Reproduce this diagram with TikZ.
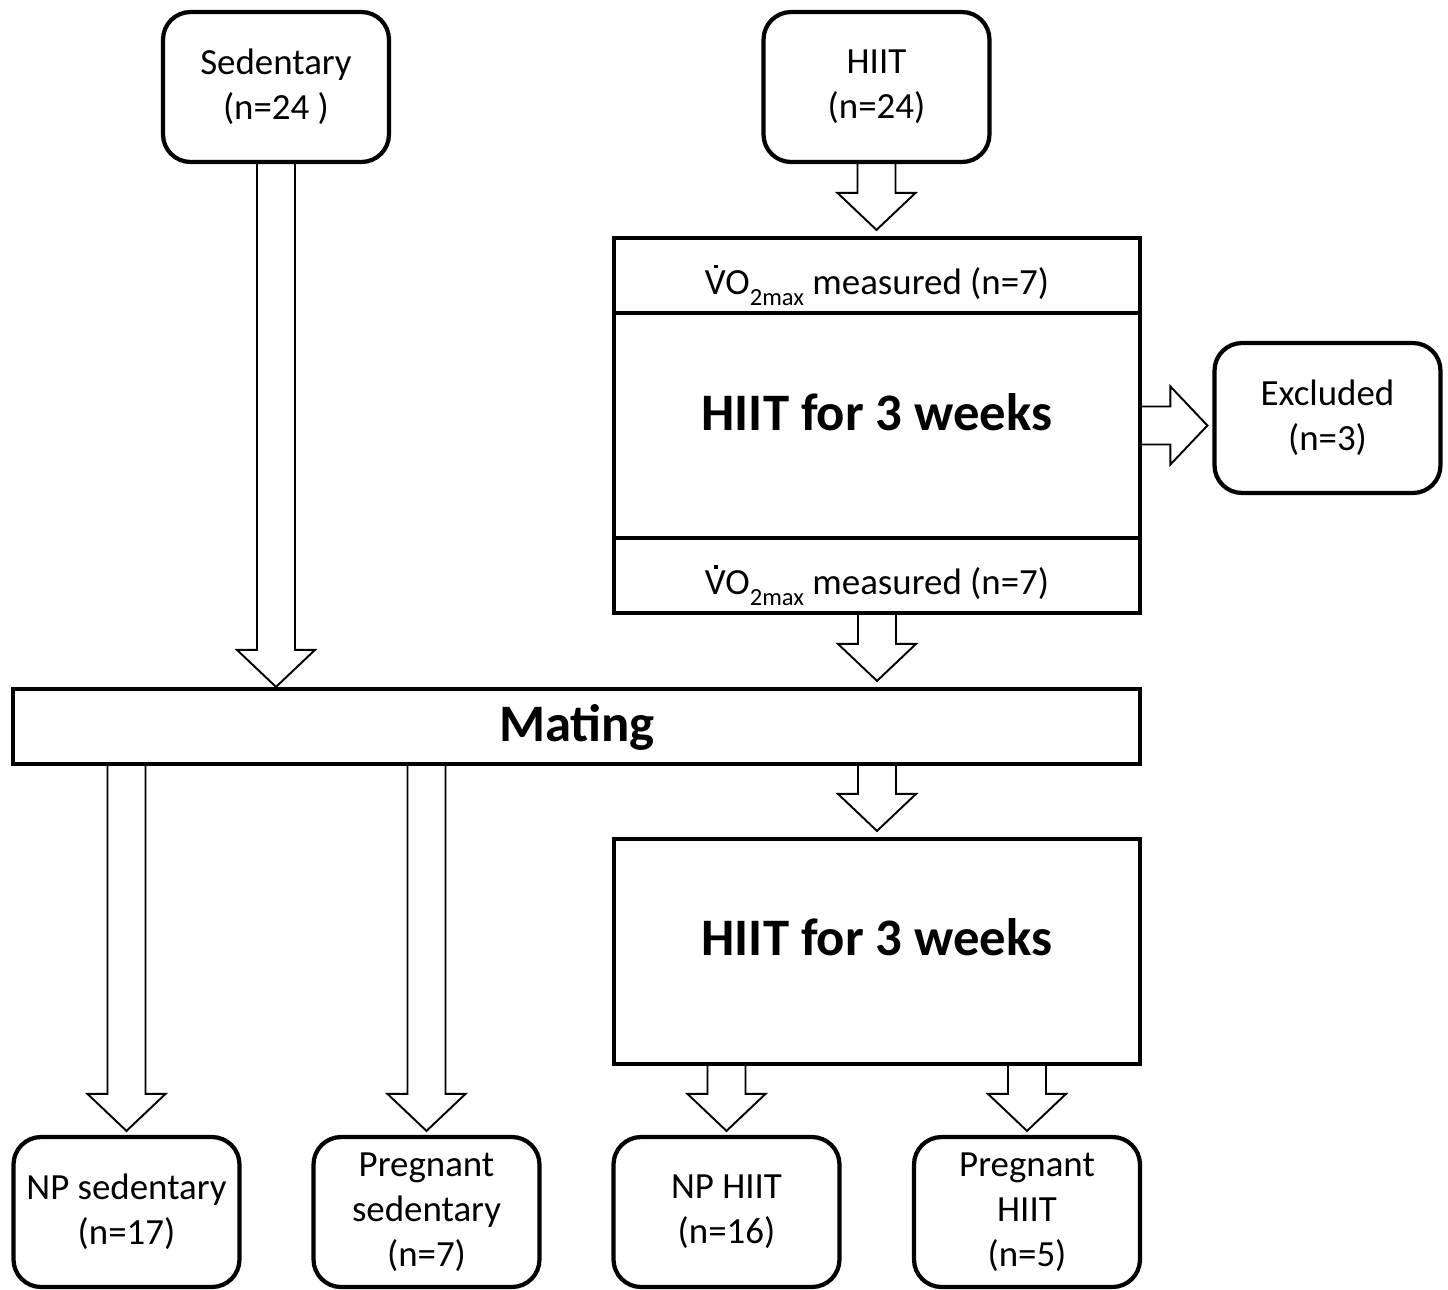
\documentclass[tikz,border=0pt]{standalone}
\usepackage{fontspec}
\setmainfont{Carlito}
\usepackage{tikz}
\usetikzlibrary{calc,shapes}

\tikzset{
  roundbox/.style={draw,shape=rectangle,rounded corners=0.55cm,line width=2.4pt,
    minimum width=4.52cm,minimum height=3cm,align=center,inner sep=0pt,
    font=\fontsize{21}{25.6}\selectfont},
  sharpbox/.style={draw,shape=rectangle,line width=2.4pt,minimum width=10.52cm,
    align=center,inner sep=0pt,font=\fontsize{21}{25.6}\selectfont},
  plaintext/.style={inner sep=0pt,font=\fontsize{21}{25.6}\selectfont},
  bigtext/.style={inner sep=0pt,font=\fontsize{30}{36}\selectfont\bfseries},
  blockarrow/.style={draw,line width=1.1pt,line join=miter}
}
\newcommand{\vomax}{\rlap{\kern0.245em\raisebox{0.71em}{\rule{0.1em}{0.1em}}}VO\raisebox{-0.28em}{\fontsize{14}{14}\selectfont 2max}}
\newcommand{\downblock}[3][0cm]{
  \draw[blockarrow] let \p1=#2, \p2=#3 in
    (\x1-0.38cm,\y1) -- (\x1-0.38cm,\y2+#1+0.74cm) -- (\x1-0.78cm,\y2+#1+0.74cm)
    -- (\x1,\y2+#1) -- (\x1+0.78cm,\y2+#1+0.74cm) -- (\x1+0.38cm,\y2+#1+0.74cm)
    -- (\x1+0.38cm,\y1);
}
\newcommand{\rightblock}[3][0cm]{
  \draw[blockarrow] let \p1=#2, \p2=#3 in
    (\x1,\y1+0.38cm) -- (\x2-#1-0.74cm,\y1+0.38cm) -- (\x2-#1-0.74cm,\y1+0.78cm)
    -- (\x2-#1,\y1) -- (\x2-#1-0.74cm,\y1-0.78cm) -- (\x2-#1-0.74cm,\y1-0.38cm)
    -- (\x1,\y1-0.38cm);
}

\begin{document}
\begin{tikzpicture}[x=0.02cm,y=-0.02cm]
\useasboundingbox (0,0) rectangle (1448,1289);

\node (sedentary) at (276,87) [roundbox] {Sedentary\\(n=24 )};
\node (hiit) at (876.5,87) [roundbox] {HIIT\\(n=24)};

\node (vopre) at (877,275.5) [sharpbox,minimum height=1.5cm] {};
\node (vopretext) at (877,285) [plaintext] {\vomax\ measured (n=7)};
\node (trainone) at (877,425.5) [sharpbox,minimum height=4.5cm] {};
\node (trainonetext) at (877,412) [bigtext] {HIIT for 3 weeks};
\node (vopost) at (877,575.5) [sharpbox,minimum height=1.5cm] {};
\node (vobosttext) at (877,585) [plaintext] {\vomax\ measured (n=7)};
\node (excluded) at (1327.5,418) [roundbox] {Excluded\\(n=3)};

\node (mating) at (576.5,726.5) [sharpbox,minimum width=22.54cm,minimum height=1.5cm] {};
\node (matingtext) at (577,727) [bigtext] {Mating};

\node (traintwo) at (877,951.5) [sharpbox,minimum height=4.5cm] {};
\node (traintwotext) at (877,937) [bigtext] {HIIT for 3 weeks};

\node (npsed) at (126.5,1212) [roundbox] {NP sedentary\\(n=17)};
\node (pregsed) at (426.5,1212) [roundbox] {Pregnant\\sedentary\\(n=7)};
\node (nphiit) at (726.5,1212) [roundbox] {NP HIIT\\(n=16)};
\node (preghiit) at (1027,1212) [roundbox] {Pregnant\\HIIT\\(n=5)};

\downblock{(sedentary.south)}{(sedentary.south |- mating.north)}
\downblock[0.12cm]{(hiit.south)}{(vopre.north)}
\downblock[0.12cm]{(vopost.south)}{(vopost.south |- mating.north)}
\downblock[0.12cm]{(mating.south -| traintwo.north)}{(traintwo.north)}
\rightblock[0.1cm]{(trainone.east)}{(excluded.west |- trainone.east)}

\downblock[0.08cm]{(mating.south -| npsed.north)}{(npsed.north)}
\downblock[0.08cm]{(mating.south -| pregsed.north)}{(pregsed.north)}
\downblock[0.08cm]{(traintwo.south -| nphiit.north)}{(nphiit.north)}
\downblock[0.08cm]{(traintwo.south -| preghiit.north)}{(preghiit.north)}
\end{tikzpicture}
\end{document}
